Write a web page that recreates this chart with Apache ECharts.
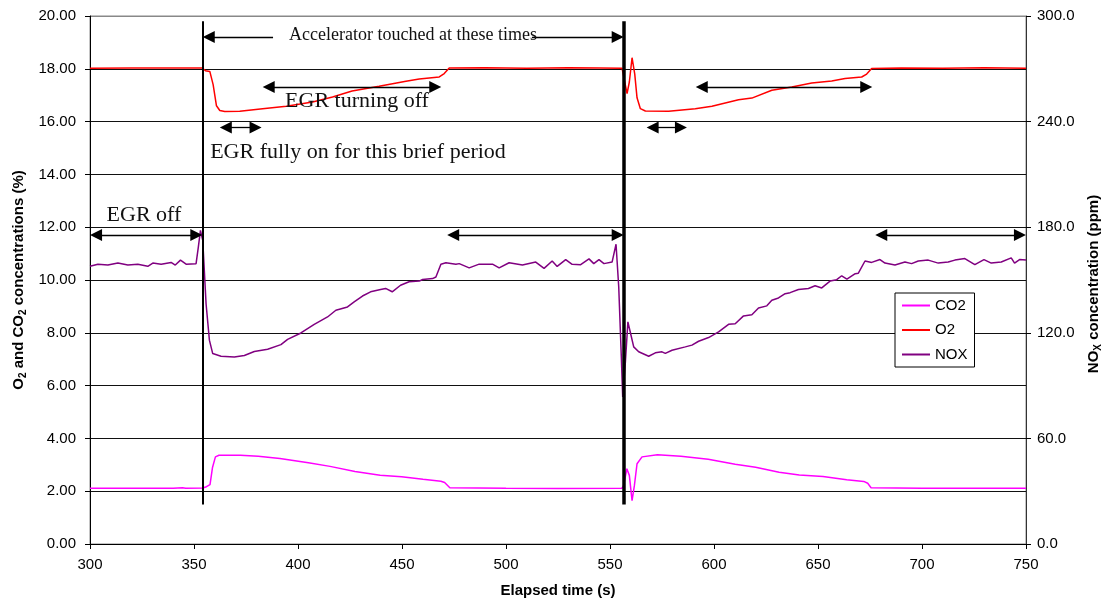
<!DOCTYPE html>
<html>
<head>
<meta charset="utf-8">
<script src="https://cdn.jsdelivr.net/npm/echarts@6/dist/echarts.min.js"></script>
<style>
html,body{margin:0;padding:0;background:#fff;}
#chart{width:1109px;height:606px;}
</style>
</head>
<body>
<div id="chart"></div>
<script>
// ---------- data ----------
const xTicks = { min: 300, max: 750, step: 50 };
const leftTicks = { min: 0, max: 20, step: 2 };
const rightTicks = { min: 0, max: 300, step: 60 };

const co2T = [300,320,340,344.5,346,354.2,356,357.7,358.9,360.3,362,372.3,380.9,391.3,405,415.4,427.4,439.5,449.8,460.1,468.7,470.5,473,500,525,555.7,556.5,558.1,559.3,560.6,561.7,563,565.4,572.8,584.1,597.2,610.2,620,631.3,641,652.4,663.8,672,673.9,675.5,700,750];
const co2V = [2.11,2.11,2.11,2.13,2.11,2.12,2.17,2.25,2.9,3.3,3.36,3.36,3.32,3.24,3.08,2.94,2.75,2.6,2.55,2.45,2.38,2.33,2.13,2.11,2.1,2.11,2.2,2.85,2.6,1.64,2.2,3.04,3.3,3.38,3.32,3.21,3.02,2.91,2.72,2.61,2.56,2.43,2.37,2.3,2.13,2.11,2.11];

const o2T = [300,320,340,353.9,355.5,357.6,359.2,360.8,362.4,364.8,372,383,394.4,407,416.6,426,439,451.9,458.3,467.9,470.3,472.7,490,510,530,545,555.8,558.2,559.3,560.6,561.9,563,564.6,567,578.2,591,599,611.8,618.2,627.8,637.4,647,656.6,663,671,673.4,675.8,690,710,730,750];
const o2V = [18.02,18.03,18.03,18.03,17.93,17.9,17.4,16.6,16.42,16.38,16.39,16.49,16.58,16.74,16.93,17.16,17.34,17.53,17.61,17.69,17.82,18.03,18.04,18.02,18.04,18.03,18.02,17.06,17.5,18.42,17.8,16.9,16.49,16.4,16.39,16.49,16.58,16.83,16.89,17.19,17.31,17.46,17.54,17.63,17.69,17.8,18.01,18.03,18.02,18.04,18.02];

const noxT = [300,303.8,308.6,313.4,318.2,323,327.8,330.2,334.2,339,341,343.5,346.2,351,352.1,353.1,354.2,355.8,357.4,359,363,369.4,374.2,379,385.4,391.8,395,401.4,407.8,414.2,418.2,423.8,427,431,434.9,439.7,442.1,445.3,449.3,453.4,458.3,459.9,464.7,466.3,468.7,471.1,475.9,477.5,482.3,487.1,493.5,496.7,501.5,507.9,514.3,518.3,522.2,524.6,528.7,531.8,535.9,539.9,542.2,544.7,547.1,551,552.9,554.2,555.5,556.1,557.4,558.6,559.9,561.4,563.8,568.6,571.8,575,576.6,579.8,586.2,589.4,592.6,597.4,602.2,607,610.2,614.2,618.2,621.4,625.4,627.8,631,634.2,636.6,640.6,645.4,648.6,651.8,655.8,659,661.4,663.9,667.9,669.4,672.6,675.8,679.8,682.2,687,691.8,695,698.2,703,707.8,712.6,715.8,720.6,725.4,729.8,733.3,738.1,742.9,744.5,746.9,750];
const noxV = [157.8,159,158.5,159.6,158.5,159,157.8,159.6,159,160,158.5,161.3,159,159.3,168.8,178.2,172.5,136.5,115.8,108.2,106.7,106.2,107.1,109.4,110.7,113.3,116.3,119.9,124.8,129,132.8,134.7,137.6,140.9,143.3,144.6,145.2,143.3,147,149,149.4,150.3,150.8,151.7,159,159.8,158.9,159.3,156.9,159,159,156.9,159.8,158.5,160.2,156.6,160.8,157.7,161.6,158.9,158.7,162,159.3,161.6,159.3,160.2,170.3,146,104.4,83.6,103.5,126.2,119.6,112,109.2,106.7,108.6,109.2,108.3,110.1,112,113,115.2,117.3,120.5,124.8,125.1,129.6,130.2,134.1,135.3,138.5,139.8,142.2,142.8,144.6,145.2,146.7,145.5,149.4,150.2,152.4,150.5,153.6,153.9,160.8,160,161.6,159.6,158.5,160.2,159.3,160.8,161.3,159.6,160.2,161.3,162.2,158.7,161.6,159.6,160.2,162.6,159.6,161.6,161.3];

// annotation marks (data coordinates: time s, left-axis %)
const touchTimes = [354, 556.8];
const touchSpan = [1.5, 19.8];
// [t start, t end, level, arrowhead at start, arrowhead at end]
const arrows = [
  [354.2, 388, 19.2, true, false],
  [512.5, 556.6, 19.2, false, true],
  [383, 468.9, 17.31, true, true],
  [591.2, 676.1, 17.31, true, true],
  [362.4, 382.5, 15.78, true, true],
  [567.6, 587, 15.78, true, true],
  [300, 354, 11.7, true, true],
  [471.7, 556.6, 11.7, true, true],
  [677.5, 750, 11.7, true, true]
];

// ---------- chart ----------
const zip = (a, b) => a.map((t, i) => [t, b[i]]);
const chart = echarts.init(document.getElementById('chart'));
const SANS = '"Liberation Sans", Arial, sans-serif';
const SERIF = '"Liberation Serif", "Times New Roman", serif';
const tipPad = 2.9;

const markData = [];
touchTimes.forEach((t, i) => {
  markData.push([
    { coord: [t, touchSpan[0]], symbol: 'none', lineStyle: { color: '#000', width: i === 0 ? 2 : 3.5, type: 'solid' } },
    { coord: [t, touchSpan[1]], symbol: 'none' }
  ]);
});
arrows.forEach(a => {
  const s = a[3] ? a[0] + tipPad : a[0];
  const e = a[4] ? a[1] - tipPad : a[1];
  markData.push([
    { coord: [s, a[2]], symbol: a[3] ? 'triangle' : 'none', lineStyle: { color: '#000', width: 1.3, type: 'solid' } },
    { coord: [e, a[2]], symbol: a[4] ? 'triangle' : 'none' }
  ]);
});

const gridSplitColors = [];
for (let i = 0; i < 10; i++) gridSplitColors.push('#111');
gridSplitColors.push('#888');

const titleRich = {
  b: { fontFamily: SANS, fontSize: 15, fontWeight: 'bold', fill: '#000', color: '#000', lineHeight: 15 },
  s: { fontFamily: SANS, fontSize: 10, fontWeight: 'bold', fill: '#000', color: '#000', padding: [8, 0, 0, 0] }
};

chart.setOption({
  animation: false,
  backgroundColor: '#fff',
  grid: { left: 90, right: 83, top: 16, bottom: 62, show: true, borderColor: '#888', borderWidth: 1 },
  legend: {
    data: ['CO2', 'O2', 'NOX'],
    orient: 'vertical',
    left: 895, top: 293,
    padding: [5, 7, 5, 7],
    itemGap: 9.5,
    icon: 'rect',
    itemWidth: 28, itemHeight: 2,
    backgroundColor: '#fff',
    borderColor: '#000', borderWidth: 1,
    textStyle: { fontFamily: SANS, fontSize: 15, color: '#000' }
  },
  xAxis: {
    type: 'value', min: xTicks.min, max: xTicks.max, interval: xTicks.step,
    axisLine: { lineStyle: { color: '#000', width: 1 } },
    axisTick: { show: true, inside: false, length: 5, lineStyle: { color: '#000' } },
    axisLabel: { fontFamily: SANS, fontSize: 15, color: '#000', margin: 13 },
    splitLine: { show: false }
  },
  yAxis: [
    {
      type: 'value', min: leftTicks.min, max: leftTicks.max, interval: leftTicks.step,
      axisLine: { show: true, lineStyle: { color: '#000', width: 1 } },
      axisTick: { show: true, inside: false, length: 5, lineStyle: { color: '#000' } },
      axisLabel: { fontFamily: SANS, fontSize: 15, color: '#000', margin: 14, formatter: v => v.toFixed(2) },
      splitLine: { show: true, lineStyle: { color: gridSplitColors, width: 1 } }
    },
    {
      type: 'value', position: 'right', min: rightTicks.min, max: rightTicks.max, interval: rightTicks.step,
      axisLine: { show: true, lineStyle: { color: '#333', width: 1 } },
      axisTick: { show: true, inside: false, length: 5, lineStyle: { color: '#000' } },
      axisLabel: { fontFamily: SANS, fontSize: 15, color: '#000', margin: 11, formatter: v => v.toFixed(1) },
      splitLine: { show: false }
    }
  ],
  series: [
    { name: 'CO2', type: 'line', yAxisIndex: 0, symbol: 'none', color: '#ff00ff', lineStyle: { width: 1.5, color: '#ff00ff' }, data: zip(co2T, co2V), z: 3 },
    { name: 'O2', type: 'line', yAxisIndex: 0, symbol: 'none', color: '#ff0000', lineStyle: { width: 1.5, color: '#ff0000' }, data: zip(o2T, o2V), z: 3 },
    { name: 'NOX', type: 'line', yAxisIndex: 1, symbol: 'none', color: '#800080', lineStyle: { width: 1.5, color: '#800080' }, data: zip(noxT, noxV), z: 3 },
    {
      name: 'annot', type: 'line', yAxisIndex: 0, data: [], z: 4,
      markLine: {
        silent: true, animation: false,
        symbolSize: 12,
        label: { show: false },
        emphasis: { disabled: true },
        lineStyle: { color: '#000', type: 'solid' },
        itemStyle: { color: '#000' },
        data: markData
      }
    }
  ],
  graphic: [
    { type: 'text', x: 19, y: 280, rotation: Math.PI / 2, z: 10,
      style: { text: '{b|O}{s|2}{b| and CO}{s|2}{b| concentrations (%)}', rich: titleRich, align: 'center', verticalAlign: 'middle', textAlign: 'center', textVerticalAlign: 'middle' } },
    { type: 'text', x: 1094, y: 284, rotation: Math.PI / 2, z: 10,
      style: { text: '{b|NO}{s|X}{b| concentration (ppm)}', rich: titleRich, align: 'center', verticalAlign: 'middle', textAlign: 'center', textVerticalAlign: 'middle' } },
    { type: 'text', x: 558, y: 591, z: 10,
      style: { text: 'Elapsed time (s)', fontFamily: SANS, fontSize: 15, fontWeight: 'bold', fill: '#000', align: 'center', verticalAlign: 'middle', textAlign: 'center', textVerticalAlign: 'middle' } },
    { type: 'text', x: 413, y: 35, z: 10,
      style: { text: 'Accelerator touched at these times', fontFamily: SERIF, fontSize: 18, fill: '#111', align: 'center', verticalAlign: 'middle', textAlign: 'center', textVerticalAlign: 'middle' } },
    { type: 'text', x: 357, y: 101, z: 10,
      style: { text: 'EGR turning off', fontFamily: SERIF, fontSize: 22, fill: '#111', align: 'center', verticalAlign: 'middle', textAlign: 'center', textVerticalAlign: 'middle' } },
    { type: 'text', x: 358, y: 152, z: 10,
      style: { text: 'EGR fully on for this brief period', fontFamily: SERIF, fontSize: 22, fill: '#111', align: 'center', verticalAlign: 'middle', textAlign: 'center', textVerticalAlign: 'middle' } },
    { type: 'text', x: 144, y: 215, z: 10,
      style: { text: 'EGR off', fontFamily: SERIF, fontSize: 22, fill: '#111', align: 'center', verticalAlign: 'middle', textAlign: 'center', textVerticalAlign: 'middle' } }
  ]
});
</script>
</body>
</html>
